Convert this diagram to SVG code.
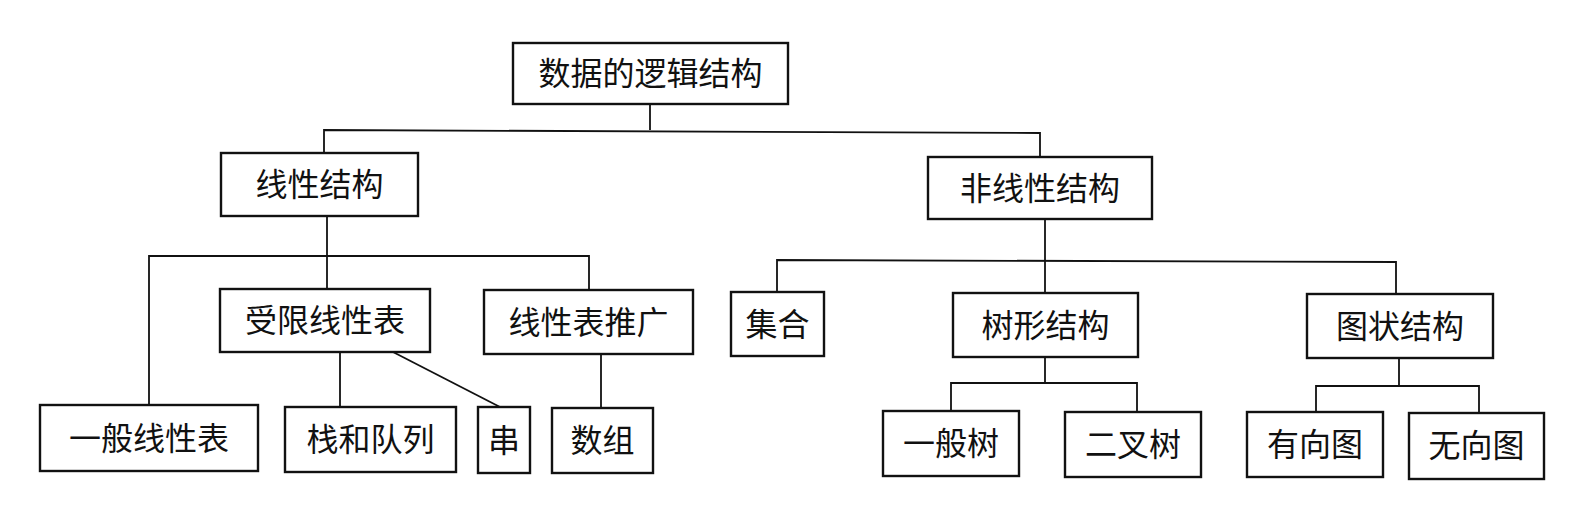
<svg xmlns="http://www.w3.org/2000/svg" width="1577" height="518" viewBox="0 0 1577 518">
<style>
.box{fill:#fff;stroke:#111;stroke-width:2.4}
.lbl{font-family:"Noto Sans CJK SC","Noto Sans",sans-serif;font-size:32px;fill:#111;text-anchor:middle}
.con{fill:none;stroke:#111;stroke-width:1.8}
</style>
<rect width="1577" height="518" fill="#fff"/>
<g id="connectors">
<path class="con" d="M650 104V130"/>
<path class="con" d="M324 153V130L1040 133V157"/>
<path class="con" d="M327 216V289"/>
<path class="con" d="M149 405V256H589V290"/>
<path class="con" d="M340 352V407"/>
<path class="con" d="M393 352L500 407"/>
<path class="con" d="M601 354V408"/>
<path class="con" d="M1045 219V293"/>
<path class="con" d="M777 292V260L1396 262V294"/>
<path class="con" d="M1045 357V383"/>
<path class="con" d="M951 411V383H1137V412"/>
<path class="con" d="M1399 358V386"/>
<path class="con" d="M1316 412V386H1479V413"/>
</g>
<g id="n-root"><rect class="box" x="513" y="43" width="275" height="61"/><text class="lbl" x="650.5" y="85">数据的逻辑结构</text></g>
<g id="n-linear"><rect class="box" x="221" y="153" width="197" height="63"/><text class="lbl" x="319.5" y="196">线性结构</text></g>
<g id="n-nonlinear"><rect class="box" x="928" y="157" width="224" height="62"/><text class="lbl" x="1040" y="200">非线性结构</text></g>
<g id="n-restricted"><rect class="box" x="220" y="289" width="210" height="63"/><text class="lbl" x="325" y="332">受限线性表</text></g>
<g id="n-extended"><rect class="box" x="484" y="290" width="209" height="64"/><text class="lbl" x="588.5" y="334">线性表推广</text></g>
<g id="n-set"><rect class="box" x="731" y="292" width="93" height="64"/><text class="lbl" x="777.5" y="336">集合</text></g>
<g id="n-tree"><rect class="box" x="953" y="293" width="185" height="64"/><text class="lbl" x="1045.5" y="337">树形结构</text></g>
<g id="n-graph"><rect class="box" x="1307" y="294" width="186" height="64"/><text class="lbl" x="1400" y="338">图状结构</text></g>
<g id="n-general-list"><rect class="box" x="40" y="405" width="218" height="66"/><text class="lbl" x="149" y="450">一般线性表</text></g>
<g id="n-stack-queue"><rect class="box" x="285" y="407" width="171" height="65"/><text class="lbl" x="370.5" y="451">栈和队列</text></g>
<g id="n-string"><rect class="box" x="478" y="407" width="52" height="66"/><text class="lbl" x="504" y="452">串</text></g>
<g id="n-array"><rect class="box" x="552" y="408" width="101" height="65"/><text class="lbl" x="602.5" y="452">数组</text></g>
<g id="n-general-tree"><rect class="box" x="883" y="411" width="136" height="65"/><text class="lbl" x="951" y="455">一般树</text></g>
<g id="n-binary-tree"><rect class="box" x="1065" y="412" width="136" height="65"/><text class="lbl" x="1133" y="456">二叉树</text></g>
<g id="n-directed"><rect class="box" x="1247" y="412" width="136" height="65"/><text class="lbl" x="1315" y="456">有向图</text></g>
<g id="n-undirected"><rect class="box" x="1409" y="413" width="135" height="66"/><text class="lbl" x="1476.5" y="457">无向图</text></g>
</svg>
